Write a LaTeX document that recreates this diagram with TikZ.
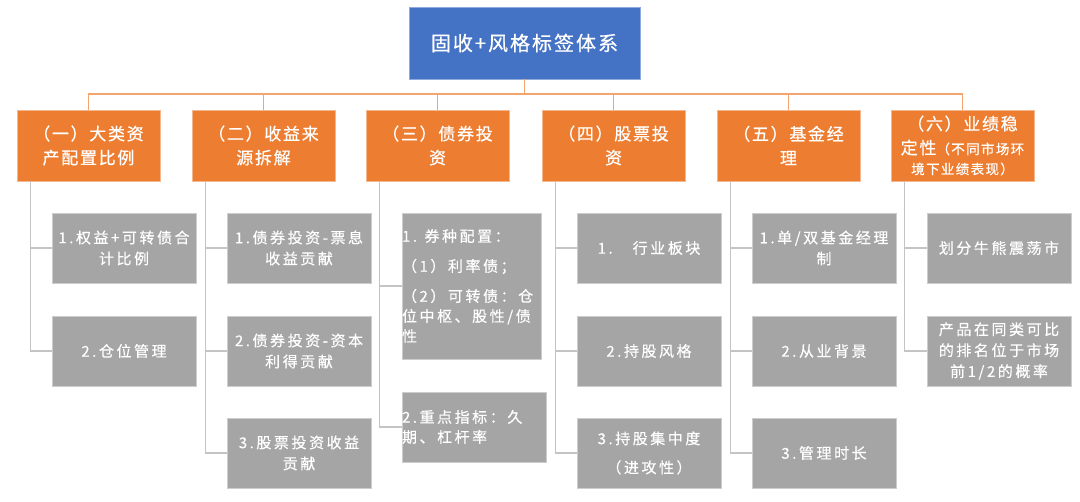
\documentclass[tikz,border=0pt]{standalone}
\usepackage{fontspec}
\setmainfont{Noto Sans CJK SC}
\newfontfamily\titlefont[LetterSpace=10, FakeBold=0.6]{Noto Sans CJK SC}
\newfontfamily\headfont[LetterSpace=10, FakeBold=0.6]{Noto Sans CJK SC}
\newfontfamily\itemfont[LetterSpace=17, FakeBold=0.4]{Noto Sans CJK SC}
\newcommand\smallhead{\fontsize{13.5}{19}\selectfont}
\usetikzlibrary{calc}
\definecolor{rootblue}{HTML}{4472C4}
\definecolor{headorange}{HTML}{ED7D31}
\definecolor{itemgray}{HTML}{A5A5A5}
\definecolor{busorange}{HTML}{F4A56F}
\definecolor{treegray}{HTML}{C4C4C4}
\begin{document}
\begin{tikzpicture}[x=1pt, y=-1pt,
  rootbox/.style={fill=rootblue, draw=rootblue!60!white, line width=.8pt, text=white, inner sep=0pt,
    minimum width=231pt, minimum height=72pt, align=center, font=\titlefont\fontsize{20}{24}\selectfont},
  headbox/.style={fill=headorange, draw=headorange!55!white, line width=.8pt, text=white, inner sep=0pt,
    minimum width=143pt, minimum height=71pt, align=center, font=\headfont\fontsize{17}{24}\selectfont},
  itembox/.style={fill=itemgray, draw=itemgray!55!white, line width=.8pt, text=white, inner sep=0pt,
    minimum width=144pt, minimum height=70pt, align=center, font=\itemfont\fontsize{15}{21}\selectfont},
  busline/.style={busorange, line width=1.2pt},
  treeline/.style={treegray, line width=1.2pt}]
\useasboundingbox (0,0) rectangle (1080,502);
\node[rootbox] (root) at (524.5,43) {固收+风格标签体系};
\node[headbox] (h1) at (88.5,145.5) {（一）大类资\\产配置比例};
\node[headbox] (h2) at (263.5,145.5) {（二）收益来\\源拆解};
\node[headbox] (h3) at (437.5,145.5) {（三）债券投\\资};
\node[headbox] (h4) at (613.5,145.5) {（四）股票投\\资};
\node[headbox] (h5) at (788.5,145.5) {（五）基金经\\理};
\node[headbox] (h6) at (962.5,145.5) {（六）业绩稳\\定性{\smallhead（不同市场环}\\[-4pt]{\smallhead 境下业绩表现）}};
\node[itembox] (a1) at (124,248) {1.权益+可转债合\\计比例};
\node[itembox] (a2) at (124,351) {2.仓位管理};
\node[itembox] (b1) at (299,248) {1.债券投资-票息\\收益贡献};
\node[itembox] (b2) at (299,351) {2.债券投资-资本\\利得贡献};
\node[itembox] (b3) at (299,453) {3.股票投资收益\\贡献};
\node[itembox, minimum width=139pt, minimum height=146pt, text width=139pt, align=left] (c1) at (471.5,286)
  {1.\enspace 券种配置：\\[9pt]（1）利率债；\\[9pt]（2）可转债：仓\\[-1pt]位中枢、股性/债\\[-1pt]性};
\node[itembox, text width=144pt, align=left] (c2) at (474,427) {2.重点指标：久\\[-1pt]期、杠杆率};
\node[itembox] (d1) at (649,248) {1.\hspace{20pt}行业板块};
\node[itembox] (d2) at (649,351) {2.持股风格};
\node[itembox] (d3) at (649,453) {3.持股集中度\\[8pt]（进攻性）};
\node[itembox] (e1) at (824,248) {1.单/双基金经理\\制};
\node[itembox] (e2) at (824,351) {2.从业背景};
\node[itembox] (e3) at (824,453) {3.管理时长};
\node[itembox] (f1) at (999,248) {划分牛熊震荡市};
\node[itembox] (f2) at (999,351) {产品在同类可比\\的排名位于市场\\前1/2的概率};
\coordinate (bus) at (0,94);
\foreach \h in {h1,h2,h3,h4,h5,h6}
{
    \draw[busline] (root.south) |- (bus -| \h.north) -- (\h.north);
}
\foreach \h/\i in {h1/a1,h1/a2,h2/b1,h2/b2,h2/b3,h3/c1,h3/c2,h4/d1,h4/d2,h4/d3,h5/e1,h5/e2,h5/e3,h6/f1,h6/f2}
{
    \draw[treeline] ([xshift=14pt]\h.south west) |- (\i.west);
}
\end{tikzpicture}
\end{document}
